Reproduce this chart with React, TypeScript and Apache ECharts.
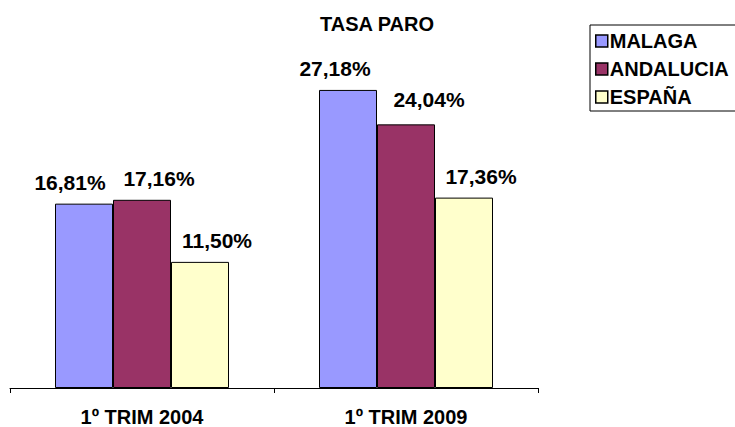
import React, { useEffect, useRef } from "react";
import * as echarts from "echarts";

const categories = ["1º TRIM 2004", "1º TRIM 2009"];
const seriesNames = ["MALAGA", "ANDALUCIA", "ESPAÑA"];
const malaga = [16.81, 27.18];
const andalucia = [17.16, 24.04];
const espana = [11.5, 17.36];
const colors = ["#9999FF", "#993366", "#FFFFCC"];
// shift of each value label, as placed in the reference
const labelShift = [
  [[-14, 0], [-13, 0]],
  [[17, 0], [23, -3]],
  [[17, 0], [17, 0]],
];

export default function App() {
  const ref = useRef<HTMLDivElement>(null);
  useEffect(() => {
    if (!ref.current) return;
    const chart = echarts.init(ref.current, null, { renderer: "svg" });
    const font = "'Liberation Sans', Arial, sans-serif";
    const data = [malaga, andalucia, espana];
    chart.setOption({
      animation: false,
      backgroundColor: "#ffffff",
      title: {
        text: "TASA PARO",
        left: 372,
        top: 9,
        textAlign: "center",
        textStyle: { fontFamily: font, fontSize: 20, fontWeight: "bold", color: "#000" },
      },
      legend: {
        orient: "vertical",
        left: 590,
        top: 25,
        data: seriesNames,
        itemWidth: 12,
        itemHeight: 12,
        itemGap: 8,
        padding: [6, 14, 4, 5],
        borderColor: "#000",
        borderWidth: 1,
        borderRadius: 0,
        icon: "rect",
        itemStyle: { borderColor: "#000", borderWidth: 1.5 },
        textStyle: { fontFamily: font, fontSize: 20, fontWeight: "bold", color: "#000", padding: [0, 0, 0, -3] },
      },
      grid: { left: 10, right: 197, top: 59, bottom: 39, containLabel: false },
      xAxis: {
        type: "category",
        data: categories,
        axisLine: { lineStyle: { color: "#000", width: 1 } },
        axisTick: { show: true, length: 5, lineStyle: { color: "#000" } },
        axisLabel: { fontFamily: font, fontSize: 20, fontWeight: "bold", color: "#000", margin: 19 },
      },
      yAxis: {
        type: "value",
        min: 0,
        max: 30,
        show: false,
        splitLine: { show: false },
      },
      series: seriesNames.map((name, i) => ({
        name,
        type: "bar",
        data: data[i].map((v, j) => ({
          value: v,
          label: { offset: labelShift[i][j] },
        })),
        barWidth: 58,
        barGap: "0%",
        itemStyle: { color: colors[i], borderColor: "#000", borderWidth: 1 },
        label: {
          show: true,
          position: "top",
          distance: 11,
          fontFamily: font,
          fontSize: 21,
          fontWeight: "bold",
          color: "#000",
          formatter: (p: any) => p.value.toFixed(2).replace(".", ",") + "%",
        },
      })),
    });
    return () => chart.dispose();
  }, []);
  return <div ref={ref} style={{ width: 735, height: 427, position: "absolute", left: 0, top: 0 }} />;
}
